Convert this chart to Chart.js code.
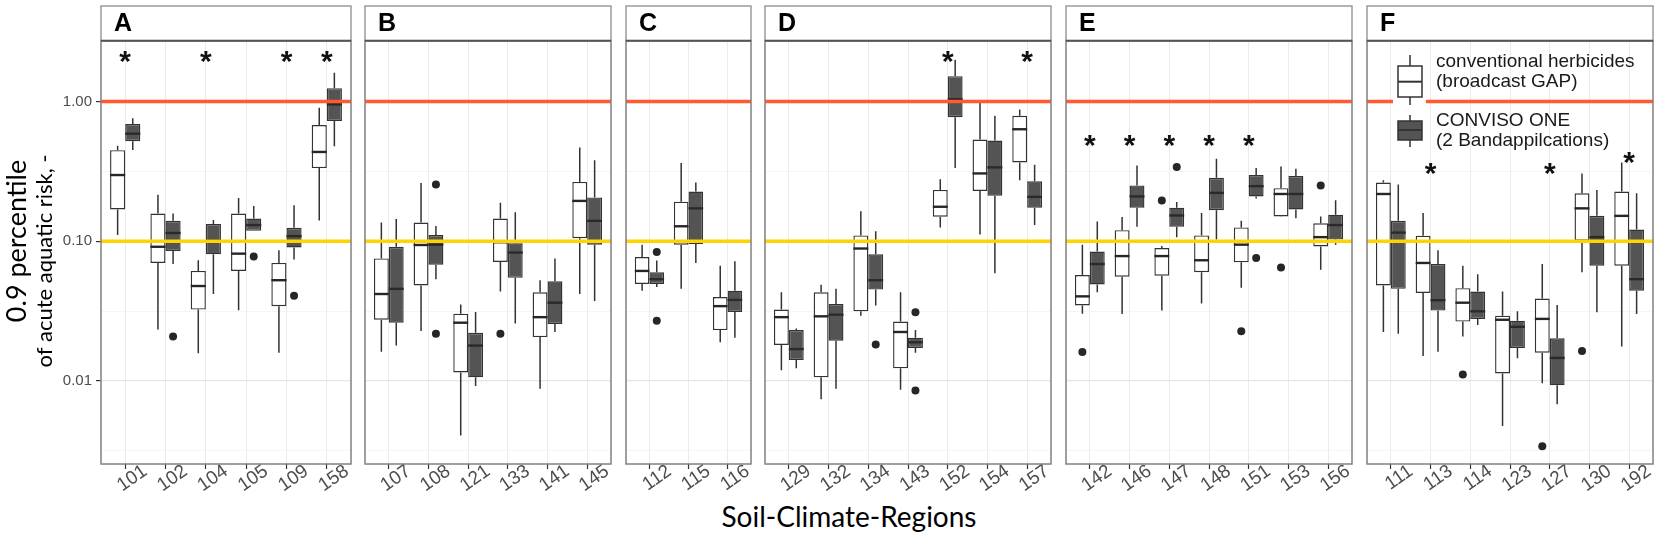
<!DOCTYPE html>
<html>
<head>
<meta charset="utf-8">
<script src="https://cdn.jsdelivr.net/npm/chart.js@4.4.1/dist/chart.umd.min.js"></script>
<style>
  body { margin: 0; background: #fff; }
  #page { position: relative; width: 1659px; height: 540px; overflow: hidden; background: #fff; }
  #page canvas { position: absolute; top: 0; }
  #xtitle {
    position: absolute; left: 549px; width: 600px; top: 500px;
    text-align: center; font: 28px Lato, sans-serif; line-height: 32px; color: #000;
  }
</style>
</head>
<body>
<div id="page">
  <div id="xtitle">Soil-Climate-Regions</div>
</div>
<script>
// Facet letters and soil-climate regions per facet
const facetNames = ['A', 'B', 'C', 'D', 'E', 'F'];
const catsA = ['101', '102', '104', '105', '109', '158'];
const catsB = ['107', '108', '121', '133', '141', '145'];
const catsC = ['112', '115', '116'];
const catsD = ['129', '132', '134', '143', '152', '154', '157'];
const catsE = ['142', '146', '147', '148', '151', '153', '156'];
const catsF = ['111', '113', '114', '123', '127', '130', '192'];

// Box stats per region: [lower whisker, q1, median, q3, upper whisker]
// conv = conventional herbicides, cnv = CONVISO ONE
const convA = [[0.111, 0.169, 0.298, 0.449, 0.483], [0.0233, 0.0699, 0.0913, 0.158, 0.215], [0.0158, 0.0324, 0.0478, 0.0613, 0.0731],
               [0.0321, 0.0613, 0.0815, 0.158, 0.204], [0.0159, 0.0343, 0.0526, 0.0699, 0.0863], [0.141, 0.334, 0.436, 0.679, 0.903]];
const cnvA  = [[0.451, 0.520, 0.589, 0.691, 0.761], [0.0687, 0.0853, 0.1146, 0.140, 0.158], [0.0419, 0.0806, 0.101, 0.133, 0.142],
               [0.1187, 0.1187, 0.1306, 0.1455, 0.179], [0.074, 0.0903, 0.1089, 0.1248, 0.181], [0.478, 0.727, 0.955, 1.248, 1.61]];
const convB = [[0.0162, 0.0274, 0.0419, 0.0753, 0.136], [0.0228, 0.0483, 0.094, 0.136, 0.261], [0.00407, 0.0115, 0.0261, 0.0303, 0.0353],
               [0.0436, 0.0711, 0.0984, 0.1455, 0.189], [0.00877, 0.0206, 0.0286, 0.0431, 0.0526], [0.0419, 0.1052, 0.1945, 0.266, 0.47]];
const cnvB  = [[0.0179, 0.0261, 0.0456, 0.0913, 0.1446], [0.0535, 0.068, 0.0945, 0.1107, 0.1284], [0.00918, 0.0106, 0.0179, 0.0221, 0.0312],
               [0.0258, 0.0547, 0.083, 0.0966, 0.161], [0.0224, 0.0255, 0.0363, 0.0517, 0.0753], [0.0374, 0.0945, 0.140, 0.206, 0.38]];
const convC = [[0.0443, 0.0494, 0.0613, 0.077, 0.0945], [0.0456, 0.0945, 0.128, 0.192, 0.363], [0.0189, 0.0231, 0.0343, 0.0398, 0.0668]];
const cnvC  = [[0.047, 0.0494, 0.0535, 0.06, 0.0728], [0.0699, 0.0955, 0.172, 0.227, 0.263], [0.0204, 0.0312, 0.038, 0.0443, 0.0719]];
const convD = [[0.0119, 0.0181, 0.0286, 0.0324, 0.0431], [0.0074, 0.0106, 0.029, 0.0431, 0.0489], [0.0293, 0.0315, 0.0887, 0.110, 0.164],
               [0.00863, 0.0123, 0.0224, 0.0266, 0.0431], [0.1256, 0.15, 0.1766, 0.233, 0.278], [0.112, 0.229, 0.306, 0.535, 0.98],
               [0.2735, 0.367, 0.634, 0.792, 0.877]];
const cnvD  = [[0.0123, 0.0141, 0.0169, 0.0231, 0.0237], [0.00877, 0.0194, 0.0298, 0.0356, 0.0456], [0.0347, 0.0451, 0.0526, 0.0806, 0.118],
               [0.0159, 0.0172, 0.0189, 0.0204, 0.0231], [0.334, 0.774, 1.04, 1.52, 1.99], [0.0589, 0.212, 0.338, 0.526, 0.792],
               [0.1306, 0.174, 0.208, 0.269, 0.353]];
const convE = [[0.0303, 0.0347, 0.0403, 0.0573, 0.0945], [0.0301, 0.0557, 0.0783, 0.12, 0.149], [0.0319, 0.0566, 0.0783, 0.0893, 0.0923],
               [0.0359, 0.06, 0.0731, 0.110, 0.159], [0.0464, 0.0707, 0.0945, 0.1256, 0.140], [0.15, 0.1507, 0.218, 0.24, 0.343],
               [0.0624, 0.0918, 0.107, 0.1344, 0.1507]];
const cnvE  = [[0.0431, 0.0491, 0.0687, 0.0843, 0.1383], [0.127, 0.174, 0.2094, 0.251, 0.349], [0.107, 0.127, 0.153, 0.174, 0.191],
               [0.1028, 0.167, 0.222, 0.2846, 0.389], [0.2023, 0.2094, 0.248, 0.298, 0.334], [0.146, 0.169, 0.218, 0.293, 0.33],
               [0.0945, 0.1028, 0.1306, 0.155, 0.197]];
const convF = [[0.0224, 0.0483, 0.218, 0.263, 0.2735], [0.0151, 0.0426, 0.0699, 0.1096, 0.159], [0.0208, 0.0266, 0.0363, 0.0461, 0.0668],
               [0.00475, 0.0113, 0.0274, 0.0293, 0.0436], [0.0096, 0.0159, 0.0278, 0.0389, 0.0687], [0.06, 0.101, 0.172, 0.2204, 0.306],
               [0.0176, 0.0668, 0.152, 0.227, 0.367]];
const cnvF  = [[0.0218, 0.0456, 0.1153, 0.140, 0.255], [0.0162, 0.0319, 0.0378, 0.0687, 0.0863], [0.0251, 0.0277, 0.0315, 0.0436, 0.058],
               [0.0145, 0.0172, 0.0244, 0.027, 0.0315], [0.0068, 0.0093, 0.0146, 0.0202, 0.0349], [0.031, 0.0668, 0.107, 0.152, 0.233],
               [0.0301, 0.0443, 0.0535, 0.1213, 0.2204]];

// Outliers: [region, series, value]
const outA = [['102', 'cnv', 0.0208], ['105', 'cnv', 0.0779], ['109', 'cnv', 0.0407]];
const outB = [['108', 'cnv', 0.255], ['108', 'cnv', 0.0218], ['133', 'conv', 0.0218]];
const outC = [['112', 'cnv', 0.0838], ['112', 'cnv', 0.027]];
const outD = [['134', 'cnv', 0.0182], ['143', 'cnv', 0.031], ['143', 'cnv', 0.00853]];
const outE = [['142', 'conv', 0.0161], ['147', 'conv', 0.1955], ['147', 'cnv', 0.34], ['151', 'conv', 0.0227],
              ['151', 'cnv', 0.076], ['153', 'conv', 0.0649], ['156', 'conv', 0.251]];
const outF = [['114', 'conv', 0.0111], ['127', 'conv', 0.0034], ['130', 'conv', 0.0164]];

// Significance stars: [region, height]
const starsA = [['101', 2.2], ['104', 2.2], ['109', 2.2], ['158', 2.2]];
const starsB = [];
const starsC = [];
const starsD = [['152', 2.2], ['157', 2.2]];
const starsE = [['142', 0.55], ['146', 0.55], ['147', 0.55], ['148', 0.55], ['151', 0.55]];
const starsF = [['113', 0.343], ['127', 0.343], ['192', 0.412]];

// Axis ticks and reference lines
const yTicks = [0.01, 0.1, 1];
const yTickLabels = ['0.01', '0.10', '1.00'];
const yMinor = [0.00316, 0.0316, 0.316];
const refLines = [[1, '#ff5a33'], [0.1, '#ffd200']];
const yTitle = ['0.9 percentile', 'of acute aquatic risk, -'];
const legendLabels = [['conventional herbicides', '(broadcast GAP)'], ['CONVISO ONE', '(2 Bandappilcations)']];

const facets = [
  { name: facetNames[0], cats: catsA, conv: convA, cnv: cnvA, out: outA, stars: starsA },
  { name: facetNames[1], cats: catsB, conv: convB, cnv: cnvB, out: outB, stars: starsB },
  { name: facetNames[2], cats: catsC, conv: convC, cnv: cnvC, out: outC, stars: starsC },
  { name: facetNames[3], cats: catsD, conv: convD, cnv: cnvD, out: outD, stars: starsD },
  { name: facetNames[4], cats: catsE, conv: convE, cnv: cnvE, out: outE, stars: starsE },
  { name: facetNames[5], cats: catsF, conv: convF, cnv: cnvF, out: outF, stars: starsF }
];

// Layout (pixels)
const U = 40.3;          // width of one region step
const EXPAND = 0.6;      // ggplot discrete expansion
const GAP = 10.6;        // gap between panels
const X0 = 101;          // left edge of first panel
const TOP = 40.7;        // top of plotting area (below strip)
const BOTTOM = 464;      // bottom of plotting area
const STRIP_TOP = 6;
const H = 540;
const YMIN = 0.00254, YMAX = 2.73;
const DODGE = 0.75;
const LINE = '#333333';
const DARK = '#545454';

function facetPlugin(f, idx) {
  const isFirst = idx === 0;
  const isLast = idx === facets.length - 1;
  return {
    id: 'facet' + f.name,
    beforeDatasetsDraw(chart) {
      // whiskers sit under the boxes
      const { ctx, scales: { y } } = chart;
      ctx.save();
      ctx.strokeStyle = LINE;
      ctx.lineWidth = 1.5;
      [f.conv, f.cnv].forEach((stats, di) => {
        const meta = chart.getDatasetMeta(di);
        stats.forEach((s, i) => {
          const bx = meta.data[i].x;
          ctx.beginPath();
          ctx.moveTo(bx, y.getPixelForValue(s[0]));
          ctx.lineTo(bx, y.getPixelForValue(s[1]));
          ctx.moveTo(bx, y.getPixelForValue(s[3]));
          ctx.lineTo(bx, y.getPixelForValue(s[4]));
          ctx.stroke();
        });
      });
      ctx.restore();
    },
    afterDatasetsDraw(chart) {
      const { ctx, chartArea: a, scales: { x, y } } = chart;
      ctx.save();
      // medians
      ctx.lineWidth = 2.4;
      [f.conv, f.cnv].forEach((stats, di) => {
        const meta = chart.getDatasetMeta(di);
        ctx.strokeStyle = di === 0 ? '#262626' : '#2a2a2a';
        stats.forEach((s, i) => {
          const el = meta.data[i];
          const my = y.getPixelForValue(s[2]);
          ctx.beginPath();
          ctx.moveTo(el.x - el.width / 2, my);
          ctx.lineTo(el.x + el.width / 2, my);
          ctx.stroke();
        });
      });
      // reference lines
      ctx.lineWidth = 3.5;
      refLines.forEach(([v, c]) => {
        const py = y.getPixelForValue(v);
        ctx.strokeStyle = c;
        ctx.beginPath();
        ctx.moveTo(a.left, py);
        ctx.lineTo(a.right, py);
        ctx.stroke();
      });
      // significance stars
      ctx.fillStyle = '#111';
      ctx.font = 'bold 30px "Liberation Sans"';
      ctx.textAlign = 'center';
      ctx.textBaseline = 'alphabetic';
      f.stars.forEach(([cat, v]) => {
        const px = x.getPixelForValue(f.cats.indexOf(cat));
        ctx.fillText('*', px, y.getPixelForValue(v) + 17);
      });
      // legend inside the last panel
      if (isLast) {
        const L = a.left;
        ctx.fillStyle = '#fff';
        ctx.fillRect(L + 26, 50, 33, 100);
        const keys = [
          { fill: '#fff', w0: 55, b0: 66, m: 81.7, b1: 97, w1: 105 },
          { fill: DARK, w0: 115, b0: 121, m: 130, b1: 140, w1: 147 }
        ];
        keys.forEach(k => {
          ctx.strokeStyle = LINE;
          ctx.lineWidth = 1.5;
          ctx.beginPath();
          ctx.moveTo(L + 43, k.w0); ctx.lineTo(L + 43, k.b0);
          ctx.moveTo(L + 43, k.b1); ctx.lineTo(L + 43, k.w1);
          ctx.stroke();
          ctx.fillStyle = k.fill;
          ctx.fillRect(L + 31, k.b0, 24, k.b1 - k.b0);
          ctx.strokeRect(L + 31, k.b0, 24, k.b1 - k.b0);
          ctx.lineWidth = 2;
          ctx.beginPath();
          ctx.moveTo(L + 31, k.m); ctx.lineTo(L + 55, k.m);
          ctx.stroke();
        });
        ctx.fillStyle = '#1a1a1a';
        ctx.font = '19px "Liberation Sans"';
        ctx.textAlign = 'left';
        ctx.textBaseline = 'middle';
        const ty = [61.7, 82, 120.7, 141];
        [legendLabels[0][0], legendLabels[0][1], legendLabels[1][0], legendLabels[1][1]].forEach((t, i) => {
          ctx.fillText(t, L + 69, ty[i]);
        });
      }
      ctx.restore();
    },
    afterDraw(chart) {
      const { ctx, chartArea: a } = chart;
      ctx.save();
      // strip
      ctx.fillStyle = '#fff';
      ctx.fillRect(a.left, STRIP_TOP, a.right - a.left, a.top - STRIP_TOP);
      ctx.strokeStyle = '#8c8c8c';
      ctx.lineWidth = 1.3;
      ctx.strokeRect(a.left, STRIP_TOP, a.right - a.left, a.top - STRIP_TOP);
      ctx.fillStyle = '#000';
      ctx.font = 'bold 25px "Liberation Sans"';
      ctx.textAlign = 'left';
      ctx.textBaseline = 'middle';
      ctx.fillText(f.name, a.left + 13, 24.5);
      // panel border
      ctx.strokeStyle = '#808080';
      ctx.lineWidth = 1.5;
      ctx.strokeRect(a.left, a.top, a.right - a.left, a.bottom - a.top);
      ctx.strokeStyle = '#555';
      ctx.lineWidth = 2;
      ctx.beginPath();
      ctx.moveTo(a.left, a.top); ctx.lineTo(a.right, a.top);
      ctx.stroke();
      // y axis title
      if (isFirst) {
        ctx.fillStyle = '#000';
        ctx.textAlign = 'center';
        ctx.textBaseline = 'middle';
        ctx.save();
        ctx.translate(17, 241);
        ctx.rotate(-Math.PI / 2);
        ctx.font = '27px Lato';
        ctx.fillText(yTitle[0], 0, 0);
        ctx.restore();
        ctx.save();
        ctx.translate(45, 261);
        ctx.rotate(-Math.PI / 2);
        ctx.font = '22px Lato';
        ctx.fillText(yTitle[1], 0, 0);
        ctx.restore();
      }
      ctx.restore();
    }
  };
}

function makeChart(f, idx, panelLeft) {
  const n = f.cats.length;
  const panelW = (n - 1 + 2 * EXPAND) * U;
  const isFirst = idx === 0;
  const extraL = isFirst ? panelLeft : 0;
  const extraR = 8;
  const W = Math.round(extraL + panelW + extraR);

  const canvas = document.createElement('canvas');
  canvas.width = W;
  canvas.height = H;
  canvas.style.width = W + 'px';
  canvas.style.height = H + 'px';
  canvas.style.left = Math.round(panelLeft - extraL) + 'px';
  document.getElementById('page').appendChild(canvas);

  const boxData = stats => stats.map((s, i) => ({ x: i, y: [s[1], s[3]] }));
  const outData = series => f.out
    .filter(o => o[1] === series)
    .map(o => ({ x: f.cats.indexOf(o[0]) + (series === 'conv' ? -1 : 1) * DODGE / 4, y: o[2] }));

  return new Chart(canvas, {
    type: 'bar',
    data: {
      datasets: [
        { label: legendLabels[0].join(' '), data: boxData(f.conv), backgroundColor: '#ffffff', borderColor: LINE,
          borderWidth: 1.4, borderSkipped: false, categoryPercentage: DODGE, barPercentage: 1 },
        { label: legendLabels[1].join(' '), data: boxData(f.cnv), backgroundColor: DARK, borderColor: LINE,
          borderWidth: 1.4, borderSkipped: false, categoryPercentage: DODGE, barPercentage: 1 },
        { type: 'scatter', data: outData('conv'), pointRadius: 4, backgroundColor: '#262626', borderWidth: 0 },
        { type: 'scatter', data: outData('cnv'), pointRadius: 4, backgroundColor: '#262626', borderWidth: 0 }
      ]
    },
    options: {
      responsive: false,
      animation: false,
      events: [],
      layout: { padding: { top: TOP, right: extraR, left: 0, bottom: 0 } },
      plugins: { legend: { display: false }, tooltip: { enabled: false } },
      scales: {
        x: {
          type: 'linear',
          min: -EXPAND,
          max: n - 1 + EXPAND,
          offset: false,
          afterBuildTicks: s => { s.ticks = f.cats.map((c, i) => ({ value: i })); },
          afterFit: s => { s.height = H - BOTTOM; s.paddingLeft = 0; s.paddingRight = 0; },
          ticks: {
            callback: v => f.cats[v],
            autoSkip: false,
            minRotation: 35,
            maxRotation: 35,
            labelOffset: 20,
            padding: -9,
            color: '#4d4d4d',
            font: { family: 'Liberation Sans', size: 19 }
          },
          grid: { color: '#ebebeb', lineWidth: 1, offset: false, tickLength: 5, tickColor: LINE, tickWidth: 1.2 },
          border: { display: false }
        },
        y: {
          type: 'logarithmic',
          min: YMIN,
          max: YMAX,
          afterBuildTicks: s => { s.ticks = yMinor.concat(yTicks).sort((a, b) => a - b).map(v => ({ value: v })); },
          afterFit: s => { s.width = extraL; s.paddingTop = 0; s.paddingBottom = 0; },
          ticks: {
            display: isFirst,
            callback: v => { const k = yTicks.indexOf(v); return k >= 0 ? yTickLabels[k] : ''; },
            padding: 4,
            color: '#4d4d4d',
            font: { family: 'Liberation Sans', size: 15 }
          },
          grid: {
            drawTicks: isFirst,
            tickLength: 5,
            color: c => yTicks.includes(c.tick.value) ? '#e6e6e6' : '#f2f2f2',
            lineWidth: c => yTicks.includes(c.tick.value) ? 1.2 : 0.8,
            tickColor: c => yTicks.includes(c.tick.value) ? LINE : 'rgba(0,0,0,0)',
            tickWidth: 1.2
          },
          border: { display: false }
        }
      }
    },
    plugins: [facetPlugin(f, idx)]
  });
}

let left = X0;
facets.forEach((f, i) => {
  makeChart(f, i, left);
  left += (f.cats.length - 1 + 2 * EXPAND) * U + GAP;
});
</script>
</body>
</html>
